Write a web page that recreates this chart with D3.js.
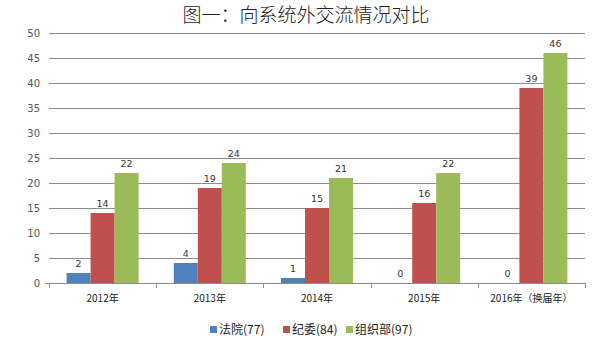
<!DOCTYPE html>
<html><head><meta charset="utf-8">
<script src="https://cdn.jsdelivr.net/npm/d3@7"></script>
<style>body{margin:0;background:#fff}svg{display:block}</style>
</head><body><svg id="c" width="603" height="360"></svg>
<script>
const categories = ["2012年","2013年","2014年","2015年","2016年（换届年）"];
const seriesNames = ["法院(77)","纪委(84)","组织部(97)"];
const fayuan = [2,4,1,0,0];
const jiwei = [14,19,15,16,39];
const zuzhibu = [22,24,21,22,46];
const yTicks = [0,5,10,15,20,25,30,35,40,45,50];
const colors = ["#4F81BD","#C0504D","#9BBB59"];
const series = [fayuan, jiwei, zuzhibu];

const svg = d3.select("#c");
const L = 49, R = 585, T = 33, B = 283;
const x = d3.scaleBand().domain(categories).range([L,R]).paddingInner(0).paddingOuter(0);
const y = d3.scaleLinear().domain([0,50]).range([B,T]);
const barW = 24;

svg.append("text").attr("x",306).attr("y",22).attr("text-anchor","middle")
  .attr("font-family","'Noto Sans CJK SC'").attr("font-weight",300).attr("font-size",19)
  .attr("fill","#222").text("图一：向系统外交流情况对比");

// grid
svg.append("g").selectAll("line").data(yTicks.filter(d=>d>0)).join("line")
  .attr("x1",L).attr("x2",R).attr("y1",d=>y(d)+0.5).attr("y2",d=>y(d)+0.5)
  .attr("stroke","#8c8c8c").attr("stroke-width",1);

// y labels
const yAxis = d3.axisLeft(y).tickValues(yTicks).tickSize(0).tickPadding(9);
const ya = svg.append("g").attr("transform",`translate(${L},0)`).call(yAxis);
ya.select(".domain").remove();
ya.selectAll("text").attr("font-family","'DejaVu Sans'").attr("font-size",10).attr("fill","#555");

// bars
categories.forEach((c,i)=>{
  const cx = x(c)+x.bandwidth()/2;
  series.forEach((s,j)=>{
    const bx = cx - 1.5*barW + j*barW;
    svg.append("rect").attr("x",bx).attr("y",y(s[i])).attr("width",barW)
      .attr("height",B-y(s[i])).attr("fill",colors[j]);
    svg.append("text").attr("x",bx+barW/2).attr("y",y(s[i])-6).attr("text-anchor","middle")
      .attr("font-family","'DejaVu Sans'").attr("font-size",9.5).attr("fill","#333").text(s[i]);
  });
});

// x axis
const xAxis = d3.axisBottom(x).tickSize(0).tickPadding(12);
const xa = svg.append("g").attr("transform",`translate(0,${B})`).call(xAxis);
xa.select(".domain").remove();
xa.selectAll("text").attr("font-family","'Noto Sans CJK SC'").attr("font-size",10).attr("fill","#222");
svg.append("line").attr("x1",L-4).attr("x2",R).attr("y1",B+0.5).attr("y2",B+0.5).attr("stroke","#8c8c8c");
const bounds = categories.map(c=>x(c)).concat([R]);
svg.append("g").selectAll("line").data(bounds).join("line")
  .attr("x1",d=>Math.round(d)+0.5).attr("x2",d=>Math.round(d)+0.5).attr("y1",B).attr("y2",B+5).attr("stroke","#8c8c8c");

// legend
const legX = [210,283,346];
seriesNames.forEach((n,j)=>{
  svg.append("rect").attr("x",legX[j]).attr("y",326).attr("width",7).attr("height",7).attr("fill",colors[j]);
  svg.append("text").attr("x",legX[j]+9).attr("y",334).attr("font-family","'Noto Sans CJK SC'")
    .attr("font-size",12).attr("fill","#222").text(n);
});
</script></body></html>
